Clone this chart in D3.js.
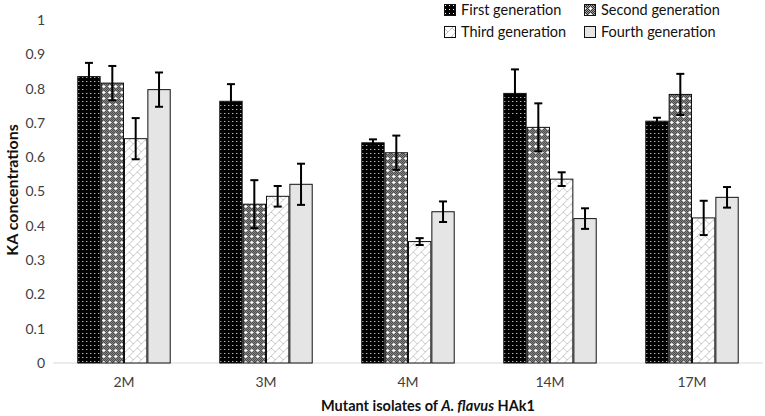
<!DOCTYPE html>
<html><head><meta charset="utf-8">
<script src="https://cdn.jsdelivr.net/npm/d3@7/dist/d3.min.js"></script>
<style>body{margin:0;background:#fff}svg{display:block;font-family:Lato,"Open Sans",sans-serif}</style>
</head><body><svg id="c" width="765" height="416"></svg>
<script>
const categories = ["2M","3M","4M","14M","17M"];
const seriesNames = ["First generation","Second generation","Third generation","Fourth generation"];
const firstGen  = [0.835,0.763,0.642,0.786,0.705];
const secondGen = [0.816,0.463,0.613,0.687,0.783];
const thirdGen  = [0.654,0.486,0.354,0.536,0.423];
const fourthGen = [0.797,0.521,0.441,0.421,0.483];
const firstErr  = [0.04,0.05,0.01,0.07,0.01];
const secondErr = [0.05,0.07,0.05,0.07,0.06];
const thirdErr  = [0.06,0.03,0.01,0.02,0.05];
const fourthErr = [0.05,0.06,0.03,0.03,0.03];
const yTicks = [0,0.1,0.2,0.3,0.4,0.5,0.6,0.7,0.8,0.9,1];

const values = [firstGen, secondGen, thirdGen, fourthGen];
const errs = [firstErr, secondErr, thirdErr, fourthErr];
const fills = ["url(#p1)","url(#p2)","url(#p3)","#e5e5e5"];

const svg = d3.select("#c");
const defs = svg.append("defs");
// pattern 1: black with white dots
let p = defs.append("pattern").attr("id","p1").attr("width",4).attr("height",4).attr("patternUnits","userSpaceOnUse");
p.append("rect").attr("width",4).attr("height",4).attr("fill","#000");
p.append("rect").attr("x",1).attr("y",1).attr("width",1).attr("height",1).attr("fill","#fff");
// pattern 2: checker with white crosses
p = defs.append("pattern").attr("id","p2").attr("width",6).attr("height",6).attr("patternUnits","userSpaceOnUse");
p.append("rect").attr("width",6).attr("height",6).attr("fill","#2a2a2a");
for (let i=0;i<6;i++) for (let j=0;j<6;j++) if ((i+j)%2===0) p.append("rect").attr("x",i).attr("y",j).attr("width",1).attr("height",1).attr("fill","#a8a8a8");
p.append("rect").attr("x",2).attr("y",1).attr("width",1).attr("height",3).attr("fill","#fff");
p.append("rect").attr("x",1).attr("y",2).attr("width",3).attr("height",1).attr("fill","#fff");
// pattern 3: white with light zigzag diagonal
p = defs.append("pattern").attr("id","p3").attr("width",8).attr("height",8).attr("patternUnits","userSpaceOnUse");
p.append("rect").attr("width",8).attr("height",8).attr("fill","#fff");
p.append("path").attr("d","M0,8 L8,0 M4,4 L8,8 M-1,1 L1,-1 M7,9 L9,7").attr("stroke","#c8c8c8").attr("stroke-width",1).attr("fill","none");

const x0 = d3.scaleBand().domain(categories).range([53,763]).paddingInner(0.342).paddingOuter(0.171);
const x1 = d3.scaleBand().domain(d3.range(4)).range([0,x0.bandwidth()]);
const y = d3.scaleLinear().domain([0,1]).range([363,20]);

// axis line
svg.append("line").attr("x1",53).attr("x2",763).attr("y1",y(0)).attr("y2",y(0)).attr("stroke","#d9d9d9").attr("stroke-width",1);

// y tick labels
const yAxis = svg.append("g").attr("transform","translate(45,0)")
  .call(d3.axisLeft(y).tickValues(yTicks).tickSize(0).tickPadding(0).tickFormat(d=>d3.format("")(+d.toFixed(1))));
yAxis.select(".domain").remove();
yAxis.selectAll("text").attr("font-size",14).attr("fill","#404040").attr("font-family","Lato,'Open Sans',sans-serif");

// x labels
const xAxis = svg.append("g").attr("transform",`translate(0,${y(0)})`)
  .call(d3.axisBottom(x0).tickSize(0).tickPadding(14));
xAxis.select(".domain").remove();
xAxis.selectAll("text").attr("font-size",14).attr("fill","#404040").attr("font-family","Lato,'Open Sans',sans-serif");

// bars
categories.forEach((c,ci)=>{
  const g = svg.append("g").attr("transform",`translate(${x0(c)},0)`);
  values.forEach((vals,si)=>{
    g.append("rect").attr("x",x1(si)+0.5).attr("y",y(vals[ci])).attr("width",x1.bandwidth()-1)
     .attr("height",y(0)-y(vals[ci])).attr("fill",fills[si]).attr("stroke","#111").attr("stroke-width",1);
  });
  values.forEach((vals,si)=>{
    const cx = x1(si)+x1.bandwidth()/2;
    const t = y(vals[ci]+errs[si][ci]), b = y(vals[ci]-errs[si][ci]);
    g.append("line").attr("x1",cx).attr("x2",cx).attr("y1",t).attr("y2",b).attr("stroke","#000").attr("stroke-width",2);
    [t,b].forEach(yy=>g.append("line").attr("x1",cx-4).attr("x2",cx+4).attr("y1",yy).attr("y2",yy).attr("stroke","#000").attr("stroke-width",2));
  });
});

// legend
const legPos = [[444,10],[584,10],[444,32],[584,32]];
seriesNames.forEach((n,i)=>{
  const [lx,ly]=legPos[i];
  svg.append("rect").attr("x",lx+0.5).attr("y",ly-5.5).attr("width",11).attr("height",11).attr("fill",fills[i]).attr("stroke","#111");
  svg.append("text").attr("x",lx+17).attr("y",ly+5).attr("font-size",14.5).attr("fill","#111").text(n);
});

// y title
svg.append("text").attr("transform","translate(18,190) rotate(-90)").attr("text-anchor","middle")
  .attr("font-size",16).attr("font-weight","bold").attr("fill","#111").text("KA concentrations");
// x title
const xt = svg.append("text").attr("x",428).attr("y",411).attr("text-anchor","middle").attr("font-size",14.5).attr("font-weight","bold").attr("fill","#111");
xt.append("tspan").text("Mutant isolates of ");
xt.append("tspan").attr("font-style","italic").text("A. flavus");
xt.append("tspan").text(" HAk1");
</script></body></html>
